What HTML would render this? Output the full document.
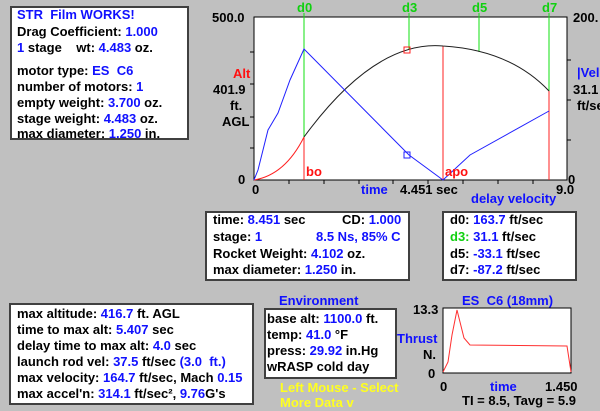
<!DOCTYPE html>
<html><head><meta charset="utf-8"><style>
body{margin:0;width:600px;height:410px;background:#c0c0c0;overflow:hidden;position:relative;font-family:"Liberation Sans",Arial,sans-serif;font-weight:bold;font-size:13px;color:#000}
.box{position:absolute;background:#fff;border:2px solid #404040;box-sizing:border-box}
.l{position:absolute;white-space:nowrap;line-height:16px}
.b{color:#1010ff}.r{color:#ff1010}.g{color:#10d010}.y{color:#ffff20}
</style></head><body>
<div class="box" style="left:10px;top:6px;width:179px;height:134px"></div>
<div class="l b" style="left:17px;top:7px">STR&nbsp; Film WORKS!</div>
<div class="l" style="left:17px;top:24px">Drag Coefficient: <span class="b">1.000</span></div>
<div class="l" style="left:17px;top:40px"><span class="b">1</span> stage &nbsp;&nbsp; wt: <span class="b">4.483</span> oz.</div>
<div class="l" style="left:17px;top:63px">motor type: <span class="b">ES&nbsp; C6</span></div>
<div class="l" style="left:17px;top:79px">number of motors: <span class="b">1</span></div>
<div class="l" style="left:17px;top:95px">empty weight: <span class="b">3.700</span> oz.</div>
<div class="l" style="left:17px;top:111px">stage weight: <span class="b">4.483</span> oz.</div>
<div class="l" style="left:17px;top:126px">max diameter: <span class="b">1.250</span> in.</div>

<svg style="position:absolute;left:0;top:0" width="600" height="200">
<rect x="254" y="17" width="313" height="163" fill="#fff" stroke="#000"/>
<g stroke="#000">
<line x1="250" y1="52" x2="254" y2="52"/><line x1="250" y1="84" x2="254" y2="84"/><line x1="250" y1="117" x2="254" y2="117"/><line x1="250" y1="148" x2="254" y2="148"/>
<line x1="567" y1="60" x2="571" y2="60"/><line x1="567" y1="100" x2="571" y2="100"/><line x1="567" y1="140" x2="571" y2="140"/>
<line x1="289" y1="180" x2="289" y2="184"/><line x1="324" y1="180" x2="324" y2="184"/><line x1="359" y1="180" x2="359" y2="184"/><line x1="393" y1="180" x2="393" y2="184"/><line x1="428" y1="180" x2="428" y2="184"/><line x1="463" y1="180" x2="463" y2="184"/><line x1="498" y1="180" x2="498" y2="184"/><line x1="533" y1="180" x2="533" y2="184"/>
</g>
<g stroke="#10e010"><line x1="304" y1="13" x2="304" y2="137"/><line x1="409" y1="13" x2="409" y2="49"/><line x1="479" y1="13" x2="479" y2="52"/><line x1="549" y1="13" x2="549" y2="91"/></g>
<g stroke="#ff2020"><line x1="304" y1="137" x2="304" y2="180"/><line x1="443" y1="46" x2="443" y2="180"/><line x1="549" y1="91" x2="549" y2="180"/></g>
<path d="M254 180 Q285 175 304 137" fill="none" stroke="#ff2020"/>
<path d="M304 137 Q375 40 443 46 Q510 50 549 91" fill="none" stroke="#202020"/>
<path d="M254 180 L258 170 L268 130 L278 113 L290 80 L304 49 L409 155 L443 180 L470 155 L549 111" fill="none" stroke="#2020ff"/>
<rect x="404" y="47" width="6" height="6" fill="none" stroke="#ff2020"/>
<rect x="404" y="152" width="6" height="6" fill="none" stroke="#2020ff"/>
</svg>
<div class="l" style="left:212px;top:10px">500.0</div>
<div class="l r" style="left:233px;top:66px">Alt</div>
<div class="l" style="left:213px;top:82px">401.9</div>
<div class="l" style="left:230px;top:98px">ft.</div>
<div class="l" style="left:222px;top:114px">AGL</div>
<div class="l" style="left:238px;top:172px">0</div>
<div class="l" style="left:252px;top:182px">0</div>
<div class="l g" style="left:297px;top:0px">d0</div>
<div class="l g" style="left:402px;top:0px">d3</div>
<div class="l g" style="left:472px;top:0px">d5</div>
<div class="l g" style="left:542px;top:0px">d7</div>
<div class="l r" style="left:306px;top:164px">bo</div>
<div class="l r" style="left:445px;top:164px">apo</div>
<div class="l" style="left:573px;top:10px">200.</div>
<div class="l b" style="left:577px;top:65px">|Vel</div>
<div class="l" style="left:573px;top:82px">31.1</div>
<div class="l" style="left:577px;top:98px">ft/sec</div>
<div class="l" style="left:568px;top:172px">0</div>
<div class="l b" style="left:361px;top:182px">time</div>
<div class="l" style="left:400px;top:182px">4.451 sec</div>
<div class="l b" style="left:471px;top:191px">delay velocity</div>
<div class="l" style="left:556px;top:182px">9.0</div>

<div class="box" style="left:205px;top:211px;width:205px;height:70px"></div>
<div class="l" style="left:213px;top:212px">time: <span class="b">8.451</span> sec</div>
<div class="l" style="left:342px;top:212px">CD: <span class="b">1.000</span></div>
<div class="l" style="left:213px;top:229px">stage: <span class="b">1</span></div>
<div class="l b" style="left:316px;top:229px">8.5 Ns, 85% C</div>
<div class="l" style="left:213px;top:246px">Rocket Weight: <span class="b">4.102</span> oz.</div>
<div class="l" style="left:213px;top:262px">max diameter: <span class="b">1.250</span> in.</div>

<div class="box" style="left:442px;top:211px;width:135px;height:70px"></div>
<div class="l" style="left:450px;top:212px">d0: <span class="b">163.7</span> ft/sec</div>
<div class="l" style="left:450px;top:229px"><span class="g">d3:</span> <span class="b">31.1</span> ft/sec</div>
<div class="l" style="left:450px;top:246px">d5: <span class="b">-33.1</span> ft/sec</div>
<div class="l" style="left:450px;top:262px">d7: <span class="b">-87.2</span> ft/sec</div>

<div class="box" style="left:9px;top:303px;width:245px;height:102px"></div>
<div class="l" style="left:17px;top:306px">max altitude: <span class="b">416.7</span> ft. AGL</div>
<div class="l" style="left:17px;top:322px">time to max alt: <span class="b">5.407</span> sec</div>
<div class="l" style="left:17px;top:338px">delay time to max alt: <span class="b">4.0</span> sec</div>
<div class="l" style="left:17px;top:354px">launch rod vel: <span class="b">37.5</span> ft/sec <span class="b">(3.0&nbsp; ft.)</span></div>
<div class="l" style="left:17px;top:370px">max velocity: <span class="b">164.7</span> ft/sec, Mach <span class="b">0.15</span></div>
<div class="l" style="left:17px;top:386px">max accel'n: <span class="b">314.1</span> ft/sec², <span class="b">9.76</span>G's</div>

<div class="l b" style="left:279px;top:293px">Environment</div>
<div class="box" style="left:264px;top:308px;width:133px;height:71px"></div>
<div class="l" style="left:267px;top:311px">base alt: <span class="b">1100.0</span> ft.</div>
<div class="l" style="left:267px;top:327px">temp: <span class="b">41.0</span> °F</div>
<div class="l" style="left:267px;top:343px">press: <span class="b">29.92</span> in.Hg</div>
<div class="l" style="left:267px;top:359px">wRASP cold day</div>
<div class="l y" style="left:280px;top:380px">Left Mouse - Select</div>
<div class="l y" style="left:280px;top:395px">More Data v</div>

<div class="l b" style="left:462px;top:293px">ES&nbsp; C6 (18mm)</div>
<svg style="position:absolute;left:0;top:300px" width="600" height="110">
<rect x="443" y="8" width="128" height="65" fill="#fff" stroke="#000"/>
<path d="M443 72 L448 62 L452 35 L457 10 L460 22 L464 38 L470 45 L567 46 L571 72" fill="none" stroke="#ff3030"/>
</svg>
<div class="l" style="left:413px;top:302px">13.3</div>
<div class="l b" style="left:397px;top:331px">Thrust</div>
<div class="l" style="left:423px;top:347px">N.</div>
<div class="l" style="left:428px;top:366px">0</div>
<div class="l" style="left:440px;top:379px">0</div>
<div class="l b" style="left:490px;top:379px">time</div>
<div class="l" style="left:545px;top:379px">1.450</div>
<div class="l" style="left:462px;top:393px">TI = 8.5, Tavg = 5.9</div>
</body></html>
